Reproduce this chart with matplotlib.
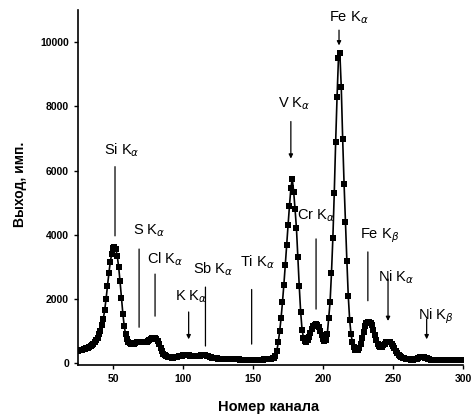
import matplotlib.pyplot as plt
import numpy as np

plt.rcParams['font.family'] = ['Liberation Sans', 'DejaVu Sans']

# spectrum: channel 25..300, one count per channel
channels = np.arange(25, 301)
counts = [
    400, 410, 420, 430, 440, 450, 470, 490, 510, 540,
    570, 610, 660, 720, 800, 900, 1020, 1180, 1380, 1650,
    2000, 2400, 2800, 3150, 3400, 3580, 3620, 3550, 3350, 3000,
    2550, 2050, 1550, 1150, 900, 760, 680, 630, 600, 590,
    600, 620, 650, 670, 680, 680, 670, 660, 660, 670,
    690, 720, 760, 790, 800, 790, 760, 700, 600, 480,
    380, 300, 250, 220, 200, 190, 185, 180, 180, 185,
    190, 200, 215, 230, 245, 255, 260, 262, 260, 255,
    245, 235, 225, 220, 220, 225, 235, 245, 255, 260,
    258, 250, 240, 225, 210, 195, 180, 170, 160, 155,
    150, 148, 145, 142, 140, 138, 136, 135, 134, 133,
    132, 130, 128, 126, 124, 122, 120, 120, 118, 116,
    115, 114, 114, 113, 112, 112, 112, 113, 114, 115,
    116, 118, 120, 122, 125, 128, 132, 138, 145, 155,
    170, 230, 400, 650, 1000, 1400, 1900, 2450, 3050, 3700,
    4300, 4900, 5450, 5750, 5350, 4800, 4200, 3300, 2400, 1600,
    1050, 800, 700, 680, 720, 820, 950, 1080, 1170, 1210,
    1220, 1200, 1130, 1020, 880, 760, 700, 720, 900, 1400,
    1900, 2800, 3900, 5300, 6900, 8300, 9500, 9650, 8600, 7000,
    5600, 4400, 3200, 2100, 1350, 900, 650, 500, 430, 410,
    430, 480, 600, 780, 980, 1150, 1250, 1290, 1300, 1270,
    1180, 1040, 880, 720, 600, 530, 510, 520, 560, 610,
    650, 670, 670, 650, 610, 550, 470, 390, 320, 270,
    230, 200, 180, 165, 150, 140, 130, 125, 120, 118,
    125, 135, 150, 170, 185, 195, 200, 195, 180, 160,
    140, 125, 115, 110, 108, 106, 105, 104, 103, 102,
    101, 100, 100, 100, 99, 99, 98, 98, 98, 97,
    97, 97, 96, 96, 96, 95,
]

line_names = [r'Si K$_\alpha$', r'S K$_\alpha$', r'Cl K$_\alpha$', r'K K$_\alpha$',
              r'Sb K$_\alpha$', r'Ti K$_\alpha$', r'V K$_\alpha$', r'Cr K$_\alpha$',
              r'Fe K$_\alpha$', r'Fe K$_\beta$', r'Ni K$_\alpha$', r'Ni K$_\beta$']
line_channels = [51.4, 68.6, 80, 104, 116, 149, 177, 195, 211.4, 232, 246.4, 274]

# marker line top / bottom, text x / y, arrow head?
layout = [
    (6125, 3970, 43.6, 6625, False),
    (3560, 1125, 64.3, 4125, False),
    (2780, 1470, 74.3, 3250, False),
    (1600, 750, 94.3, 2090, True),
    (2375, 540, 107.0, 2940, False),
    (2300, 600, 140.7, 3160, False),
    (7530, 6375, 167.9, 8100, True),
    (3875, 1690, 181.4, 4600, False),
    (10375, 9900, 204.3, 10750, True),
    (3470, 1950, 226.4, 3970, False),
    (2625, 1320, 239.3, 2690, True),
    (1375, 750, 267.9, 1470, True),
]

fig = plt.figure(figsize=(4.73, 4.20), dpi=100)
ax = fig.add_axes([0.165, 0.131, 0.814, 0.845])

ax.plot(channels, counts, color='black', lw=1.2, marker='s', markersize=5,
        markeredgewidth=0, zorder=3)

for name, ch, (top, bot, tx, ty, arrow) in zip(line_names, line_channels, layout):
    style = '-|>' if arrow else '-'
    ax.annotate('', xy=(ch, bot), xytext=(ch, top),
                arrowprops=dict(arrowstyle=style, color='black', lw=0.9,
                                mutation_scale=6, shrinkA=0, shrinkB=0))
    ax.text(tx, ty, name, fontsize=10.5, ha='left', va='center', clip_on=False)

ax.set_xlim(25, 300)
ax.set_ylim(-50, 11000)
ax.set_xticks([50, 100, 150, 200, 250, 300])
ax.set_yticks([0, 2000, 4000, 6000, 8000, 10000])
ax.spines['top'].set_visible(False)
ax.spines['right'].set_visible(False)
ax.spines['left'].set_linewidth(1.2)
ax.spines['bottom'].set_linewidth(1.2)
ax.tick_params(direction='out', length=3, width=1, labelsize=7.5)
for lab in ax.get_xticklabels() + ax.get_yticklabels():
    lab.set_fontweight('bold')

ax.set_xlabel('Номер канала', fontsize=10.5, fontweight='bold')
ax.set_ylabel('Выход, имп.', fontsize=10, fontweight='bold')
ax.xaxis.set_label_coords(0.494, -0.1)
ax.yaxis.set_label_coords(-0.133, 0.51)

fig.savefig('out.png', dpi=100)
